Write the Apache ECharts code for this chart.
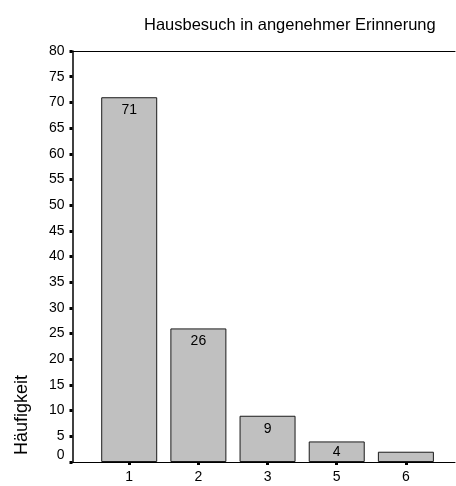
<!DOCTYPE html>
<html>
<head>
<meta charset="utf-8">
<script src="https://cdn.jsdelivr.net/npm/echarts@6/dist/echarts.min.js"></script>
<style>
html,body{margin:0;padding:0;background:#fff;}
#chart{width:456px;height:486px;}
</style>
</head>
<body>
<div id="chart"></div>
<script>
const categories = ['1', '2', '3', '5', '6'];
const counts = [71, 26, 9, 4, 2];
const chartTitle = 'Hausbesuch in angenehmer Erinnerung';
const yName = 'Häufigkeit';

const positions = categories.map((c, i) => i + 1);
const FONT = '"Liberation Sans", Arial, sans-serif';

const barData = counts.map((v, i) => {
  let label;
  if (v < 3) label = { show: false };
  else if (v < 8) label = { show: true, position: 'inside' };
  else label = { show: true, position: 'insideTop', distance: 6 };
  return { value: [positions[i], v], label };
});

const chart = echarts.init(document.getElementById('chart'), null, { renderer: 'canvas' });
chart.setOption({
  animation: false,
  backgroundColor: '#fff',
  title: {
    text: chartTitle,
    left: 139,
    top: 12,
    textStyle: { fontFamily: FONT, fontSize: 16.5, fontWeight: 'normal', color: '#000' }
  },
  grid: { left: 72.5, right: 1, top: 51, bottom: 24, containLabel: false },
  xAxis: [
    {
      type: 'value',
      min: 0.18,
      max: 5.71,
      position: 'bottom',
      splitLine: { show: false },
      axisLine: { show: true, lineStyle: { color: '#000', width: 1 } },
      axisTick: { show: true, customValues: positions, length: 3, lineStyle: { color: '#000', width: 3 } },
      axisLabel: {
        customValues: positions,
        margin: 8,
        fontFamily: FONT, fontSize: 14, color: '#000',
        formatter: v => categories[Math.round(v) - 1]
      }
    },
    {
      type: 'value',
      min: 0.18,
      max: 5.71,
      position: 'top',
      splitLine: { show: false },
      axisLine: { show: true, lineStyle: { color: '#000', width: 1 } },
      axisTick: { show: false },
      axisLabel: { show: false }
    }
  ],
  yAxis: {
    type: 'value',
    min: 0,
    max: 80,
    interval: 5,
    splitLine: { show: false },
    axisLine: { show: true, lineStyle: { color: '#000', width: 1.5 } },
    axisTick: { show: true, length: 3, lineStyle: { color: '#000', width: 3 } },
    axisLabel: {
      margin: 8,
      fontFamily: FONT, fontSize: 14, color: '#000',
      formatter: v => v === 0 ? '{z|0}' : String(v),
      rich: { z: { fontFamily: FONT, fontSize: 14, color: '#000', padding: [0, 0, 14, 0] } }
    }
  },
  graphic: [
    {
      type: 'text',
      left: 13,
      top: 375,
      rotation: Math.PI / 2,
      style: { text: yName, font: '18px ' + FONT, fill: '#000' }
    }
  ],
  series: [
    {
      type: 'bar',
      xAxisIndex: 0,
      barWidth: 56,
      data: barData,
      itemStyle: { color: '#c0c0c0', borderColor: '#1a1a1a', borderWidth: 1 },
      label: { fontFamily: FONT, fontSize: 14, color: '#000' }
    }
  ]
});
</script>
</body>
</html>
